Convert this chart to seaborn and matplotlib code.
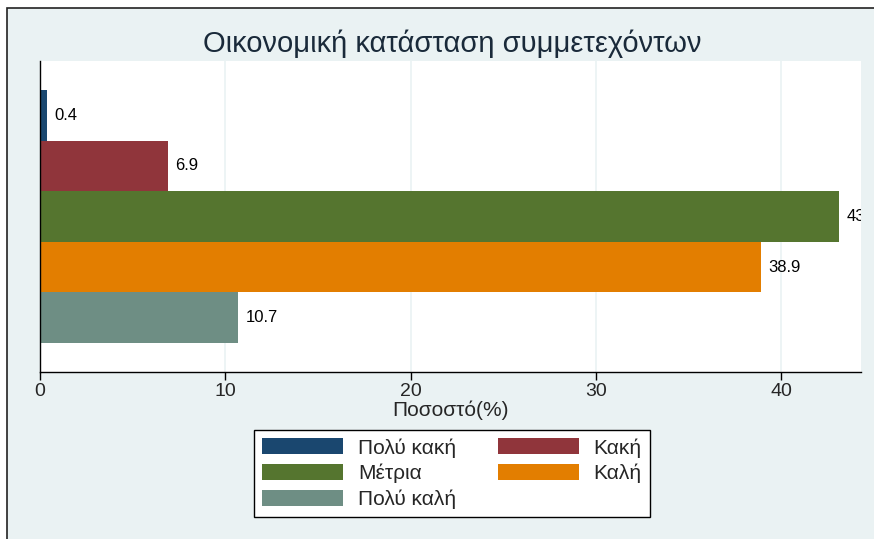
import numpy as np
import pandas as pd
import matplotlib
matplotlib.use("Agg")
import matplotlib.pyplot as plt
import seaborn as sns
from matplotlib.patches import Rectangle, Patch

# data
categories = ["Πολύ κακή", "Κακή", "Μέτρια", "Καλή", "Πολύ καλή"]
percent = [0.4, 6.9, 43.1, 38.9, 10.7]
colors = ["#1a476f", "#90353b", "#55752f", "#e37e00", "#6e8e84"]

BG = "#eaf2f3"

sns.set_theme(style="white")
plt.rcParams["font.family"] = ["Liberation Sans", "DejaVu Sans"]

df = pd.DataFrame({"cat": categories, "pct": percent})

fig = plt.figure(figsize=(8.74, 5.39), dpi=100, facecolor="white")
# outer stata-like frame
fig.patches.append(Rectangle((7 / 874, -0.1), 1.2, 1 - 8 / 539 + 0.1,
                             transform=fig.transFigure, facecolor=BG,
                             edgecolor="#222222", linewidth=1.2, zorder=-10))

ax = fig.add_axes([40 / 874, 1 - 372 / 539, (861 - 40) / 874, (372 - 61) / 539])
ax.set_facecolor("white")

sns.barplot(data=df, x="pct", y="cat", hue="cat", palette=colors,
            orient="h", width=1.0, dodge=False, legend=False,
            saturation=1, linewidth=0, ax=ax)

ax.set_xlim(0, 44.3)
ax.set_ylim(5.075, -1.075)
ax.set_xticks([0, 10, 20, 30, 40])
ax.grid(axis="x", color=BG, linewidth=1.2)
ax.set_axisbelow(True)
ax.set_yticks([])
ax.set_ylabel("")
ax.set_xlabel("Ποσοστό(%)", fontsize=15, labelpad=0)
ax.tick_params(axis="x", direction="out", length=6, width=1, color="black",
               labelsize=14, pad=2, bottom=True)

for s in ["top", "right"]:
    ax.spines[s].set_visible(False)
for s in ["left", "bottom"]:
    ax.spines[s].set_color("black")
    ax.spines[s].set_linewidth(1.0)

# value labels; the last one runs past the plot edge as in the original
for i, v in enumerate(percent):
    ax.text(v + 0.4, i, f"{v}", va="center", ha="left", fontsize=12,
            color="black", clip_on=True)

fig.text(452 / 874, 1 - 44 / 539, "Οικονομική κατάσταση συμμετεχόντων",
         ha="center", va="center", fontsize=21, color="#1a2a3a")

# legend, column-major order
order = [0, 2, 4, 1, 3]
handles = [Patch(facecolor=colors[i], edgecolor="none") for i in order]
labels = [categories[i] for i in order]
leg = fig.legend(handles, labels, ncol=2, loc="center",
                 bbox_to_anchor=(452 / 874, 1 - 473.5 / 539),
                 fontsize=15, frameon=True, fancybox=False, framealpha=1,
                 handlelength=3.9, handleheight=0.77, columnspacing=2.0,
                 handletextpad=0.7, labelspacing=0.3, borderpad=0.4,
                 borderaxespad=0)
leg.get_frame().set_edgecolor("black")
leg.get_frame().set_linewidth(1.0)
leg.get_frame().set_facecolor("white")

fig.savefig("out.png", dpi=100, facecolor=fig.get_facecolor())
